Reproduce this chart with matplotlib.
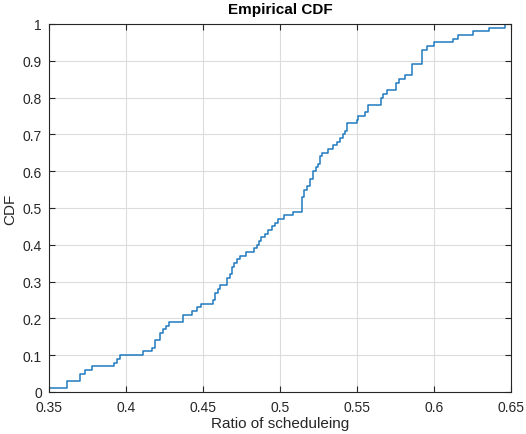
import matplotlib.pyplot as plt

# step positions (ratio) and CDF level after each step
ratio = [0.350, 0.362, 0.370, 0.3734, 0.378, 0.392, 0.394, 0.396, 0.411, 0.4167,
         0.4188, 0.422, 0.424, 0.426, 0.428, 0.4368, 0.4427, 0.446, 0.449, 0.4567,
         0.458, 0.4595, 0.461, 0.4654, 0.4675, 0.4686, 0.470, 0.4719, 0.474, 0.4777,
         0.4833, 0.4849, 0.4864, 0.488, 0.490, 0.4924, 0.4946, 0.4968, 0.499, 0.5028,
         0.5086, 0.5145, 0.5158, 0.5173, 0.5195, 0.5216, 0.5232, 0.5245, 0.526, 0.5275,
         0.5314, 0.5346, 0.5368, 0.539, 0.541, 0.5422, 0.5433, 0.5498, 0.5504, 0.5552,
         0.557, 0.5656, 0.5671, 0.5693, 0.5751, 0.5773, 0.5812, 0.5855, 0.592, 0.5953,
         0.600, 0.6121, 0.6158, 0.6255, 0.6359, 0.6461]
cdf = [0.01, 0.03, 0.05, 0.06, 0.07, 0.08, 0.09, 0.10, 0.11, 0.12,
       0.14, 0.16, 0.17, 0.18, 0.19, 0.21, 0.22, 0.23, 0.24, 0.25,
       0.27, 0.28, 0.29, 0.31, 0.32, 0.34, 0.35, 0.36, 0.37, 0.38,
       0.39, 0.40, 0.41, 0.42, 0.43, 0.44, 0.45, 0.46, 0.47, 0.48,
       0.49, 0.53, 0.55, 0.56, 0.58, 0.60, 0.61, 0.62, 0.64, 0.65,
       0.66, 0.67, 0.68, 0.69, 0.70, 0.71, 0.73, 0.74, 0.75, 0.76,
       0.78, 0.80, 0.81, 0.82, 0.84, 0.85, 0.86, 0.89, 0.93, 0.94,
       0.95, 0.96, 0.97, 0.98, 0.99, 1.00]

xticks = [0.35, 0.4, 0.45, 0.5, 0.55, 0.6, 0.65]
xlabels = ["0.35", "0.4", "0.45", "0.5", "0.55", "0.6", "0.65"]
yticks = [0, 0.1, 0.2, 0.3, 0.4, 0.5, 0.6, 0.7, 0.8, 0.9, 1]
ylabels = ["0", "0.1", "0.2", "0.3", "0.4", "0.5", "0.6", "0.7", "0.8", "0.9", "1"]

plt.rcParams["font.family"] = ["Liberation Sans", "DejaVu Sans"]

fig = plt.figure(figsize=(5.26, 4.35), dpi=100)
ax = fig.add_axes([0.0932, 0.0966, 0.878, 0.846])

ax.step([ratio[0]] + ratio, [0] + cdf, where="post", color="#1f7bc0", lw=1.1)

ax.set_xlim(0.35, 0.65)
ax.set_ylim(0, 1)
ax.set_xticks(xticks)
ax.set_xticklabels(xlabels)
ax.set_yticks(yticks)
ax.set_yticklabels(ylabels)

ax.grid(True, color="#dcdcdc", lw=0.8)
ax.set_axisbelow(True)
for s in ax.spines.values():
    s.set_color("#262626")
    s.set_linewidth(0.8)
ax.tick_params(direction="in", length=4, width=0.8, colors="#262626",
               labelsize=10, top=True, right=True)
ax.tick_params(axis="x", pad=6)
ax.tick_params(axis="y", pad=5)

ax.set_title("Empirical CDF", fontsize=11, fontweight="bold", pad=8)
ax.set_xlabel("Ratio of scheduleing", fontsize=11, color="#262626", labelpad=1)
ax.set_ylabel("CDF", fontsize=11, color="#262626", labelpad=4)

fig.savefig("out.png", dpi=100)
